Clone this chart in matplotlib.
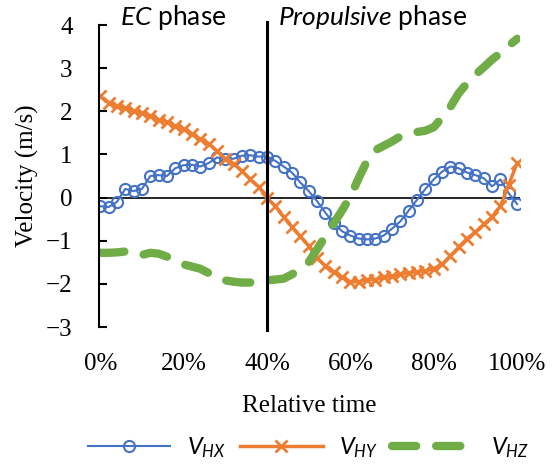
import matplotlib
matplotlib.use('Agg')
import matplotlib.pyplot as plt

plt.rcParams['font.family'] = ['Liberation Serif', 'DejaVu Serif']
plt.rcParams['mathtext.fontset'] = 'custom'
plt.rcParams['mathtext.it'] = 'Lato:italic'
plt.rcParams['mathtext.rm'] = 'Lato'

# 相対時間 (%)
rel_time = list(range(0, 101, 2))

# 各速度成分 (m/s)
v_hx = [-0.2, -0.22, -0.1, 0.2, 0.15, 0.2, 0.5, 0.52, 0.5, 0.68,
        0.75, 0.76, 0.72, 0.8, 0.93, 0.9, 0.9, 0.97, 0.98, 0.95,
        0.95, 0.85, 0.72, 0.58, 0.35, 0.15, -0.08, -0.35, -0.6, -0.78,
        -0.88, -0.95, -0.97, -0.95, -0.88, -0.72, -0.55, -0.3, -0.05, 0.2,
        0.42, 0.6, 0.72, 0.68, 0.58, 0.52, 0.45, 0.26, 0.42, 0.1,
        -0.15]
v_hy = [2.35, 2.2, 2.12, 2.08, 2.0, 1.95, 1.9, 1.8, 1.75, 1.65,
        1.58, 1.48, 1.35, 1.25, 1.08, 0.9, 0.78, 0.62, 0.42, 0.25,
        0.0, -0.2, -0.45, -0.68, -0.9, -1.12, -1.4, -1.58, -1.72, -1.85,
        -1.95, -1.95, -1.9, -1.9, -1.85, -1.82, -1.78, -1.75, -1.72, -1.7,
        -1.65, -1.55, -1.35, -1.15, -0.95, -0.8, -0.62, -0.45, -0.2, 0.3,
        0.8]
v_hz = [-1.28, -1.28, -1.27, -1.25, -1.25, -1.33, -1.28, -1.3, -1.37, -1.47,
        -1.55, -1.6, -1.65, -1.75, -1.85, -1.92, -1.95, -1.97, -1.97, -1.95,
        -1.92, -1.9, -1.88, -1.78, -1.65, -1.5, -1.2, -0.9, -0.6, -0.3,
        0.02, 0.45, 0.85, 1.1, 1.2, 1.3, 1.42, 1.48, 1.52, 1.55,
        1.63, 1.85, 2.1, 2.42, 2.65, 2.85, 3.02, 3.2, 3.35, 3.52,
        3.68]

x_ticks = [0, 20, 40, 60, 80, 100]
x_labels = ['0%', '20%', '40%', '60%', '80%', '100%']
y_ticks = [-3, -2, -1, 0, 1, 2, 3, 4]

fig = plt.figure(figsize=(5.56, 4.65), dpi=100)
ax = fig.add_axes([99 / 556, 1 - 327 / 465, 421 / 556, 302 / 465])

ax.plot(rel_time, v_hx, '-o', color='#4472C4', lw=1.5, ms=8, mfc='none',
        mew=1.5, label='$V_{HX}$')
ax.plot(rel_time, v_hy, '-x', color='#ED7D31', lw=2.5, ms=8, mew=2,
        label='$V_{HY}$')
ax.plot(rel_time, v_hz, '--', color='#70AD47', lw=6, dashes=(2.9, 2.4),
        dash_capstyle='round', label='$V_{HZ}$')

ax.axhline(0, color='black', lw=1.2, zorder=1)
ax.axvline(40, ymin=-0.01, ymax=1.01, color='black', lw=2.2, clip_on=False)

ax.set_xlim(-0.3, 100.7)
ax.set_ylim(-3, 4)
ax.set_xticks(x_ticks)
ax.set_xticklabels(x_labels)
ax.set_yticks(y_ticks)
ax.tick_params(axis='x', length=0, pad=19, labelsize=18)
ax.tick_params(axis='y', direction='in', length=6, width=1.5, labelsize=18, pad=19)
for s in ['top', 'right', 'bottom']:
    ax.spines[s].set_visible(False)
ax.spines['left'].set_linewidth(1.5)

ax.set_xlabel('Relative time', fontsize=18, labelpad=14)
ax.set_ylabel('Velocity (m/s)', fontsize=18, labelpad=5)

fig.text(120 / 556, 1 - 18 / 465, '$\\mathit{EC}$ phase', family='Lato',
         fontsize=19, va='center', ha='left')
fig.text(278 / 556, 1 - 18 / 465, '$\\mathit{Propulsive}$ phase', family='Lato',
         fontsize=19, va='center', ha='left')

fig.legend(loc='center', bbox_to_anchor=(0.555, 1 - 448 / 465), ncol=3,
           frameon=False, fontsize=17, handlelength=3.5, columnspacing=0.6,
           handletextpad=0.7)

fig.savefig('out.png', dpi=100)
